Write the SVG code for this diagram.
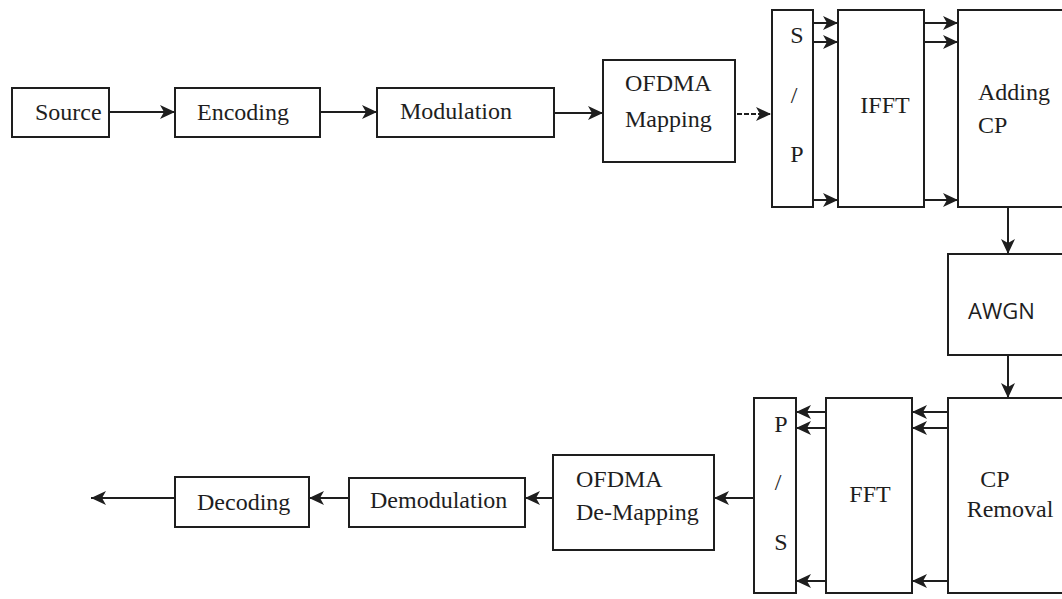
<svg xmlns="http://www.w3.org/2000/svg" width="1062" height="599" viewBox="0 0 1062 599">
<style>
.box{fill:#fff;stroke:#1e1e1e;stroke-width:2}
.t{font-family:'Liberation Serif','DejaVu Serif',serif;font-size:24px;fill:#1e1e1e}
.s{font-family:'Open Sans','DejaVu Sans',sans-serif;font-size:22px;fill:#1e1e1e}
.c{stroke:#1e1e1e;stroke-width:2;fill:none;marker-end:url(#ah)}
.d{stroke-dasharray:5,2}
</style>
<defs>
<marker id="ah" markerUnits="userSpaceOnUse" markerWidth="16" markerHeight="14" refX="15" refY="7" orient="auto">
<path d="M0,0 L15,7 L0,14 L4,7 Z" fill="#1e1e1e"/>
</marker>
</defs>
<rect width="1062" height="599" fill="#fff"/>
<g id="connectors">
<line class="c" x1="109" y1="112" x2="175" y2="112"/>
<line class="c" x1="320" y1="112" x2="377" y2="112"/>
<line class="c" x1="554" y1="113" x2="603" y2="113"/>
<line class="c d" x1="737" y1="114" x2="771" y2="114"/>
<line class="c" x1="813" y1="23" x2="838" y2="23"/>
<line class="c" x1="813" y1="42" x2="838" y2="42"/>
<line class="c" x1="813" y1="200" x2="838" y2="200"/>
<line class="c" x1="924" y1="23" x2="958" y2="23"/>
<line class="c" x1="924" y1="42" x2="958" y2="42"/>
<line class="c" x1="924" y1="200" x2="958" y2="200"/>
<line class="c" x1="1008" y1="207" x2="1008" y2="254"/>
<line class="c" x1="1008" y1="355" x2="1008" y2="398"/>
<line class="c" x1="948" y1="412" x2="912" y2="412"/>
<line class="c" x1="948" y1="428" x2="912" y2="428"/>
<line class="c" x1="948" y1="581" x2="912" y2="581"/>
<line class="c" x1="826" y1="412" x2="796" y2="412"/>
<line class="c" x1="826" y1="428" x2="796" y2="428"/>
<line class="c" x1="826" y1="581" x2="796" y2="581"/>
<line class="c" x1="754" y1="498" x2="714" y2="498"/>
<line class="c" x1="553" y1="498" x2="525" y2="498"/>
<line class="c" x1="349" y1="498" x2="309" y2="498"/>
<line class="c" x1="175" y1="498" x2="91" y2="498"/>
</g>
<g id="source"><rect class="box" x="12" y="88" width="97" height="49"/><text class="t" x="35" y="120">Source</text></g>
<g id="encoding"><rect class="box" x="175" y="88" width="145" height="49"/><text class="t" x="197" y="120">Encoding</text></g>
<g id="modulation"><rect class="box" x="377" y="88" width="177" height="49"/><text class="t" x="400" y="119">Modulation</text></g>
<g id="ofdma-mapping"><rect class="box" x="603" y="60" width="132" height="102"/><text class="t" x="625" y="91">OFDMA</text><text class="t" x="625" y="127">Mapping</text></g>
<g id="sp"><rect class="box" x="772" y="10" width="41" height="197"/><text class="t" x="797" y="43" text-anchor="middle">S</text><text class="t" x="794" y="103" text-anchor="middle">/</text><text class="t" x="797" y="162" text-anchor="middle">P</text></g>
<g id="ifft"><rect class="box" x="838" y="10" width="86" height="197"/><text class="t" x="885" y="113" text-anchor="middle">IFFT</text></g>
<g id="adding-cp"><rect class="box" x="958" y="10" width="110" height="197"/><text class="t" x="978" y="100">Adding</text><text class="t" x="978" y="133">CP</text></g>
<g id="awgn"><rect class="box" x="948" y="254" width="120" height="101"/><text class="s" x="968" y="319">AWGN</text></g>
<g id="cp-removal"><rect class="box" x="948" y="398" width="120" height="195"/><text class="t" x="995" y="487" text-anchor="middle">CP</text><text class="t" x="1010" y="517" text-anchor="middle">Removal</text></g>
<g id="fft"><rect class="box" x="826" y="398" width="86" height="195"/><text class="t" x="870" y="502" text-anchor="middle">FFT</text></g>
<g id="ps"><rect class="box" x="754" y="398" width="42" height="195"/><text class="t" x="781" y="432" text-anchor="middle">P</text><text class="t" x="778" y="490" text-anchor="middle">/</text><text class="t" x="781" y="550" text-anchor="middle">S</text></g>
<g id="ofdma-demapping"><rect class="box" x="553" y="455" width="161" height="95"/><text class="t" x="576" y="487">OFDMA</text><text class="t" x="576" y="520">De-Mapping</text></g>
<g id="demodulation"><rect class="box" x="349" y="478" width="176" height="49"/><text class="t" x="370" y="508">Demodulation</text></g>
<g id="decoding"><rect class="box" x="175" y="477" width="134" height="50"/><text class="t" x="197" y="510">Decoding</text></g>
</svg>
